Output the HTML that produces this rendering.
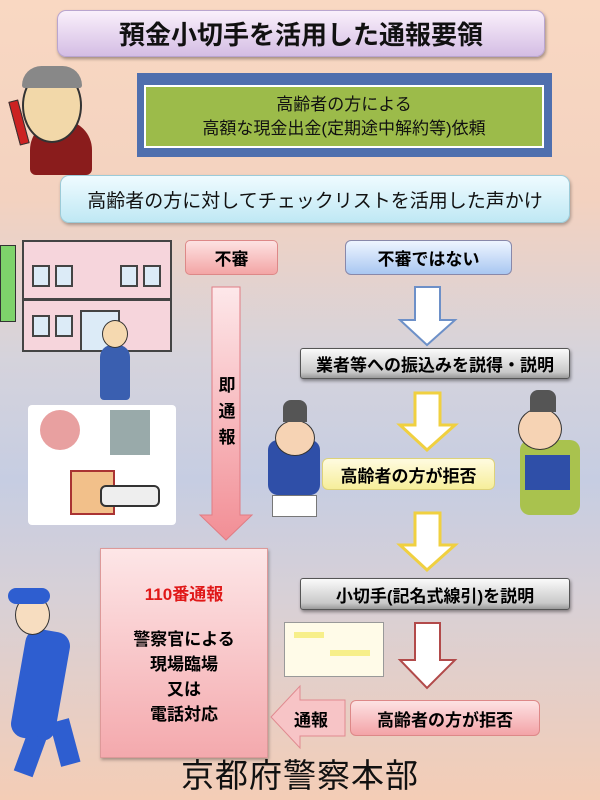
<!DOCTYPE html>
<html><head><meta charset="utf-8"><style>
*{margin:0;padding:0;box-sizing:border-box}
body{width:600px;height:800px;overflow:hidden;position:relative;font-family:"Liberation Sans","Noto Sans CJK JP",sans-serif;background:linear-gradient(180deg,#f9d8c2 0%,#f3d2c0 25%,#d5d3dc 45%,#c6cde2 60%,#d8d0d6 75%,#f4cdb6 100%)}
.a{position:absolute}
.c{display:flex;align-items:center;justify-content:center;text-align:center}
.scroll{background:linear-gradient(180deg,#fafafa,#c9c9c9 80%,#9a9a9a);border:1.5px solid #555;border-radius:3px;font-weight:bold;font-size:17px;box-shadow:1px 2px 3px rgba(0,0,0,.4)}
</style></head><body>
<div class="a c" style="left:57px;top:10px;width:488px;height:47px;border-radius:9px;background:linear-gradient(180deg,#faf0fb,#d4bde4);border:1px solid #b9a5cf;box-shadow:1px 2px 3px rgba(0,0,0,.35);font-size:26px;font-weight:bold;color:#111">預金小切手を活用した通報要領</div>

<div class="a" style="left:30px;top:120px;width:62px;height:55px;background:#8a1c1c;border-radius:30px 30px 6px 6px"></div>
<div class="a" style="left:22px;top:68px;width:60px;height:75px;background:#f2d8a9;border-radius:50%;border:2px solid #333"></div>
<div class="a" style="left:22px;top:66px;width:60px;height:22px;background:#888;border-radius:30px 30px 4px 4px"></div>
<div class="a" style="left:14px;top:100px;width:10px;height:45px;background:#c22;border:1px solid #333;transform:rotate(-15deg)"></div>

<div class="a" style="left:137px;top:73px;width:415px;height:84px;background:#4f6fae"></div>
<div class="a c" style="left:144px;top:85px;width:400px;height:63px;background:#9cbb4a;border:2px solid #fff;font-size:17px;line-height:24px;color:#111">高齢者の方による<br>高額な現金出金(定期途中解約等)依頼</div>

<div class="a c" style="left:60px;top:175px;width:510px;height:48px;border-radius:9px;background:linear-gradient(180deg,#effbff,#bfe8f4);border:1px solid #9ccbd8;box-shadow:1px 2px 3px rgba(0,0,0,.3);font-size:19px;color:#111">高齢者の方に対してチェックリストを活用した声かけ</div>

<div class="a" style="left:0;top:245px;width:16px;height:77px;background:#7ed36b;border:1px solid #333"></div>
<div class="a" style="left:22px;top:240px;width:150px;height:112px;background:#f6d5dc;border:2px solid #444"></div>
<div class="a" style="left:22px;top:298px;width:150px;height:3px;background:#444"></div>
<div class="a" style="left:32px;top:265px;width:18px;height:22px;border:2px solid #444;background:#dcebf7"></div>
<div class="a" style="left:55px;top:265px;width:18px;height:22px;border:2px solid #444;background:#dcebf7"></div>
<div class="a" style="left:120px;top:265px;width:18px;height:22px;border:2px solid #444;background:#dcebf7"></div>
<div class="a" style="left:143px;top:265px;width:18px;height:22px;border:2px solid #444;background:#dcebf7"></div>
<div class="a" style="left:32px;top:315px;width:18px;height:22px;border:2px solid #444;background:#dcebf7"></div>
<div class="a" style="left:55px;top:315px;width:18px;height:22px;border:2px solid #444;background:#dcebf7"></div>
<div class="a" style="left:80px;top:310px;width:40px;height:42px;border:2px solid #444;background:#dcebf7"></div>
<div class="a" style="left:100px;top:345px;width:30px;height:55px;background:#3a5fb0;border-radius:12px 12px 4px 4px"></div>
<div class="a" style="left:102px;top:320px;width:26px;height:28px;background:#f5d9b0;border-radius:50%;border:1px solid #333"></div>
<div class="a" style="left:28px;top:405px;width:148px;height:120px;background:#fff;border-radius:4px"></div>
<div class="a" style="left:40px;top:410px;width:40px;height:40px;background:#e8a0a0;border-radius:50%"></div>
<div class="a" style="left:110px;top:410px;width:40px;height:45px;background:#9aa"></div>
<div class="a" style="left:70px;top:470px;width:45px;height:45px;background:#f2c08a;border:2px solid #a33"></div>
<div class="a" style="left:100px;top:485px;width:60px;height:22px;background:#eee;border:2px solid #333;border-radius:6px"></div>

<div class="a c" style="left:185px;top:240px;width:93px;height:35px;border-radius:5px;background:linear-gradient(180deg,#fde2e2,#f3a5a5);border:1px solid #d88;font-size:17px;font-weight:bold">不審</div>
<div class="a c" style="left:345px;top:240px;width:167px;height:35px;border-radius:6px;background:linear-gradient(180deg,#eef5ff,#a9c7f1);border:1px solid #88a;font-size:17px;font-weight:bold">不審ではない</div>

<svg class="a" style="left:0;top:0" width="600" height="800">
<defs><linearGradient id="pk" x1="0" y1="0" x2="0" y2="1"><stop offset="0" stop-color="#fde8ea"/><stop offset="1" stop-color="#f28e95"/></linearGradient></defs>
<path d="M212 287 H240 V515 H252 L226 540 L200 515 H212 Z" fill="url(#pk)" stroke="#e07c84" stroke-width="1"/>
<path d="M415 287 H440 V320 H455 L427 345 L400 320 H415 Z" fill="#fff" stroke="#6d90c8" stroke-width="2"/>
<path d="M415 393 H440 V425 H455 L427 450 L400 425 H415 Z" fill="#fff" stroke="#f0d040" stroke-width="3"/>
<path d="M415 513 H440 V545 H455 L427 570 L400 545 H415 Z" fill="#fff" stroke="#f0d040" stroke-width="3"/>
<path d="M415 623 H440 V660 H455 L427 688 L400 660 H415 Z" fill="#fff" stroke="#b24a4a" stroke-width="2"/>
</svg>
<div class="a" style="left:217px;top:373px;width:20px;font-size:17px;font-weight:bold;line-height:26px;text-align:center">即<br>通<br>報</div>

<div class="a c scroll" style="left:300px;top:348px;width:270px;height:31px">業者等への振込みを説得・説明</div>

<div class="a" style="left:268px;top:440px;width:52px;height:55px;background:#2f4fa8;border-radius:10px"></div>
<div class="a" style="left:275px;top:420px;width:40px;height:36px;background:#f6d3b4;border-radius:50%;border:1px solid #333"></div>
<div class="a" style="left:283px;top:400px;width:24px;height:22px;background:#555;border-radius:8px 8px 0 0"></div>
<div class="a" style="left:272px;top:495px;width:45px;height:22px;background:#fff;border:1px solid #777"></div>
<div class="a" style="left:520px;top:440px;width:60px;height:75px;background:#a9c24e;border-radius:10px"></div>
<div class="a" style="left:525px;top:455px;width:45px;height:35px;background:#2f4fa8"></div>
<div class="a" style="left:518px;top:408px;width:44px;height:42px;background:#f6d3b4;border-radius:50%;border:1px solid #333"></div>
<div class="a" style="left:530px;top:390px;width:26px;height:22px;background:#555;border-radius:8px 8px 0 0"></div>

<div class="a c" style="left:322px;top:458px;width:173px;height:32px;border-radius:6px;background:linear-gradient(180deg,#fffbe0,#f6ee9a);border:1px solid #ddd27a;font-size:17px;font-weight:bold">高齢者の方が拒否</div>

<div class="a c scroll" style="left:300px;top:578px;width:270px;height:32px">小切手(記名式線引)を説明</div>
<div class="a" style="left:284px;top:622px;width:100px;height:55px;background:#fffbe8;border:1px solid #999"></div>
<div class="a" style="left:294px;top:632px;width:30px;height:6px;background:#f7ef8a"></div>
<div class="a" style="left:330px;top:650px;width:40px;height:6px;background:#f7ef8a"></div>

<div class="a" style="left:100px;top:548px;width:168px;height:210px;background:linear-gradient(180deg,#fde6e7,#f4a9ad);border:1px solid #d99;box-shadow:1px 2px 3px rgba(0,0,0,.3)"></div>
<div class="a" style="left:100px;top:580px;width:168px;text-align:center;font-size:17px;font-weight:bold;color:#e01818">110番通報</div>
<div class="a" style="left:100px;top:627px;width:168px;text-align:center;font-size:17px;font-weight:bold;line-height:25px">警察官による<br>現場臨場<br>又は<br>電話対応</div>

<svg class="a" style="left:0;top:0" width="600" height="800">
<path d="M345 700 V736 H300 V748 L271 717 L300 686 V700 Z" fill="#f7c4c6" stroke="#e08a90" stroke-width="1"/>
</svg>
<div class="a" style="left:294px;top:706px;font-size:17px;font-weight:bold">通報</div>
<div class="a c" style="left:350px;top:700px;width:190px;height:36px;border-radius:6px;background:linear-gradient(180deg,#fde2e3,#f3a3a7);border:1px solid #d88;font-size:17px;font-weight:bold">高齢者の方が拒否</div>

<div class="a" style="left:18px;top:630px;width:45px;height:110px;background:#2e5ed0;border-radius:14px;transform:rotate(10deg)"></div>
<div class="a" style="left:15px;top:595px;width:35px;height:40px;background:#f7ddc0;border-radius:50%;border:1px solid #333"></div>
<div class="a" style="left:8px;top:588px;width:42px;height:16px;background:#2e5ed0;border-radius:8px"></div>
<div class="a" style="left:20px;top:735px;width:20px;height:40px;background:#2e5ed0;transform:rotate(20deg)"></div>
<div class="a" style="left:55px;top:720px;width:20px;height:45px;background:#2e5ed0;transform:rotate(-15deg)"></div>

<div class="a" style="left:0;top:756px;width:600px;text-align:center;font-size:33px;line-height:40px;color:#111;letter-spacing:1px">京都府警察本部</div>
</body></html>
